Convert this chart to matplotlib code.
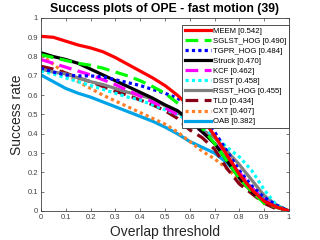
import matplotlib
matplotlib.use('Agg')
import matplotlib.pyplot as plt
import numpy as np

# overlap thresholds 0:0.05:1
thresholds = np.linspace(0, 1, 21)

meem = [0.905, 0.90, 0.88, 0.86, 0.845, 0.825, 0.795, 0.76, 0.725, 0.69,
        0.65, 0.60, 0.54, 0.48, 0.39, 0.29, 0.19, 0.11, 0.05, 0.02, 0.0]
sglst = [0.81, 0.795, 0.78, 0.765, 0.755, 0.74, 0.72, 0.70, 0.675, 0.645,
         0.61, 0.56, 0.51, 0.43, 0.35, 0.26, 0.17, 0.10, 0.04, 0.02, 0.0]
tgpr = [0.74, 0.72, 0.705, 0.70, 0.70, 0.695, 0.68, 0.665, 0.65, 0.63,
        0.61, 0.585, 0.54, 0.48, 0.41, 0.31, 0.21, 0.13, 0.07, 0.03, 0.0]
struck = [0.82, 0.80, 0.785, 0.765, 0.735, 0.705, 0.675, 0.645, 0.615, 0.585,
          0.55, 0.52, 0.47, 0.41, 0.35, 0.26, 0.17, 0.10, 0.05, 0.02, 0.0]
kcf = [0.785, 0.765, 0.745, 0.725, 0.705, 0.68, 0.655, 0.625, 0.595, 0.565,
       0.535, 0.50, 0.46, 0.41, 0.35, 0.28, 0.20, 0.12, 0.06, 0.02, 0.0]
dsst = [0.725, 0.71, 0.69, 0.67, 0.65, 0.63, 0.61, 0.59, 0.575, 0.55,
        0.525, 0.50, 0.465, 0.43, 0.39, 0.33, 0.28, 0.21, 0.11, 0.03, 0.0]
rsst = [0.735, 0.72, 0.71, 0.69, 0.67, 0.655, 0.635, 0.615, 0.60, 0.58,
        0.545, 0.51, 0.47, 0.42, 0.38, 0.31, 0.24, 0.16, 0.08, 0.03, 0.0]
tld = [0.75, 0.735, 0.715, 0.69, 0.67, 0.645, 0.62, 0.60, 0.575, 0.55,
       0.52, 0.48, 0.42, 0.38, 0.32, 0.22, 0.14, 0.09, 0.04, 0.01, 0.0]
cxt = [0.81, 0.76, 0.71, 0.67, 0.635, 0.60, 0.57, 0.54, 0.51, 0.48,
       0.45, 0.41, 0.36, 0.31, 0.27, 0.22, 0.16, 0.10, 0.05, 0.02, 0.0]
oab = [0.705, 0.67, 0.635, 0.61, 0.59, 0.565, 0.54, 0.515, 0.49, 0.465,
       0.435, 0.40, 0.36, 0.33, 0.30, 0.25, 0.18, 0.12, 0.06, 0.02, 0.0]

labels = ['MEEM [0.542]', 'SGLST_HOG [0.490]', 'TGPR_HOG [0.484]',
          'Struck [0.470]', 'KCF [0.462]', 'DSST [0.458]',
          'RSST_HOG [0.455]', 'TLD [0.434]', 'CXT [0.407]', 'OAB [0.382]']
series = [meem, sglst, tgpr, struck, kcf, dsst, rsst, tld, cxt, oab]
colors = ['#ff0000', '#00ff00', '#0000ff', '#000000', '#ff00ff',
          '#00ffff', '#808080', '#880015', '#ff7f27', '#00a2e8']
styles = ['-', (0, (4, 2)), (0, (1, 1)), '-', (0, (4, 2)),
          (0, (1, 1)), '-', (0, (4, 2)), (0, (1, 1)), '-']

plt.rcParams['font.family'] = ['Liberation Sans', 'DejaVu Sans']

fig = plt.figure(figsize=(3.2, 2.4), dpi=100)
ax = fig.add_axes([0.128, 0.121, 0.775, 0.804])

# draw lowest-ranked first so MEEM ends up on top
for i in range(len(series) - 1, -1, -1):
    ax.plot(thresholds, series[i], color=colors[i], linestyle=styles[i],
            linewidth=2.3, label=labels[i])

handles, labs = ax.get_legend_handles_labels()
leg = ax.legend(handles[::-1], labs[::-1], loc='upper right',
                bbox_to_anchor=(1.0, 0.965), borderaxespad=0,
                fontsize=5.6, handlelength=3.4, handletextpad=0.3,
                labelspacing=0.34, borderpad=0.3, fancybox=False,
                framealpha=1)
leg.get_frame().set_edgecolor('#333333')
leg.get_frame().set_linewidth(0.6)

ax.set_xlim(0, 1)
ax.set_ylim(0, 1)
ax.set_xticks(np.arange(0, 1.01, 0.1))
ax.set_yticks(np.arange(0, 1.01, 0.1))
ax.set_xticklabels(['0', '0.1', '0.2', '0.3', '0.4', '0.5', '0.6', '0.7',
                    '0.8', '0.9', '1'])
ax.set_yticklabels(['0', '0.1', '0.2', '0.3', '0.4', '0.5', '0.6', '0.7',
                    '0.8', '0.9', '1'])
ax.tick_params(direction='in', top=True, right=True, length=2.5,
               width=0.5, labelsize=5.5, colors='#404040', pad=2)
for s in ax.spines.values():
    s.set_linewidth(0.6)
    s.set_color('#404040')

ax.set_title('Success plots of OPE - fast motion (39)', fontsize=8.8,
             fontweight='bold', pad=4)
ax.set_xlabel('Overlap threshold', fontsize=10, labelpad=3,
              color='#262626')
ax.set_ylabel('Success rate', fontsize=10, labelpad=3, color='#262626')

fig.savefig('out.png', dpi=100)
